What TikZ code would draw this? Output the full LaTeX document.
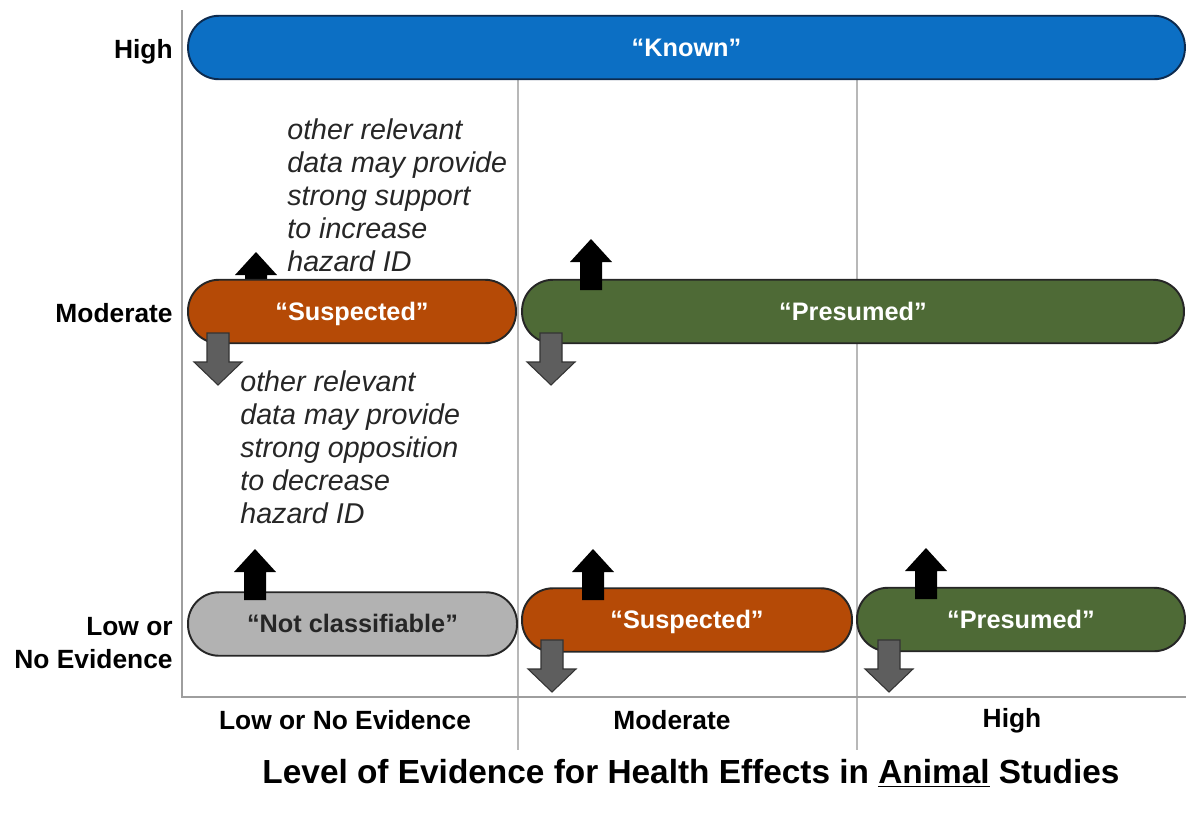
\documentclass[tikz,border=0pt]{standalone}
\usepackage{fontspec}
\setmainfont{Liberation Sans}
\definecolor{knownblue}{HTML}{0C6FC4}
\definecolor{knownedge}{HTML}{0D2B4F}
\definecolor{susporange}{HTML}{B54A06}
\definecolor{presgreen}{HTML}{4E6A36}
\definecolor{notgray}{HTML}{B2B2B2}
\definecolor{downgray}{HTML}{5E5E5E}

\begin{document}
\begin{tikzpicture}[
    x=0.02cm, y=-0.02cm,
    bar/.style={draw=black!85, line width=1.1pt, rounded corners=0.62cm,
        minimum height=1.27cm, inner sep=0pt, text=white,
        text height=1.0em, text depth=0pt,
        font=\fontsize{14.4}{16}\selectfont\bfseries},
    axislabel/.style={font=\fontsize{15}{18.5}\selectfont\bfseries, inner sep=0pt},
    note/.style={anchor=north west, inner sep=0pt, align=left,
        font=\fontsize{16.3}{18.8}\selectfont\itshape, text=black!85},
    axis/.style={draw=black!38, line width=1.3pt},
    grid/.style={draw=black!28, line width=0.7pt},
    uparr/.pic={\fill[black] (0,0) -- (21,23) -- (11,23) -- (11,51)
        -- (-11,51) -- (-11,23) -- (-21,23) -- cycle;},
    downarr/.pic={\filldraw[fill=downgray, draw=black!80, line width=0.6pt]
        (0,0) -- (24,-23) -- (11,-23) -- (11,-52) -- (-11,-52) -- (-11,-23)
        -- (-24,-23) -- cycle;}
]
    \useasboundingbox (0,0) rectangle (1186,816);
    \coordinate (top) at (182,10);
    \coordinate (o) at (182,697);
    \coordinate (right) at (1186,697);
    \coordinate (g1top) at (518,80);
    \coordinate (g1bot) at (518,750);
    \coordinate (g2top) at (857,80);
    \coordinate (g2bot) at (857,750);
    \draw[grid] (g1top) -- (g1bot);
    \draw[grid] (g2top) -- (g2bot);
    \draw[axis] (top) -- (o) -- (right);

    \pic at (256,252) {uparr};
    \node[bar, fill=knownblue, draw=knownedge, minimum width=19.94cm]
        (known) at (686.5,47.5) {``Known''};
    \node[bar, fill=susporange, minimum width=6.56cm]
        (susmod) at (352,311.5) {``Suspected''};
    \node[bar, fill=presgreen, minimum width=13.24cm]
        (presmod) at (853,311.5) {``Presumed''};
    \node[bar, fill=notgray, text=black!85, minimum width=6.58cm]
        (notcl) at (352.5,624) {``Not classifiable''};
    \node[bar, fill=susporange, minimum width=6.6cm]
        (suslow) at (687,620) {``Suspected''};
    \node[bar, fill=presgreen, minimum width=6.56cm]
        (preslow) at (1021,619.5) {``Presumed''};

    \pic at (591,239) {uparr};
    \pic at (255,549) {uparr};
    \pic at (593,549) {uparr};
    \pic at (926,548) {uparr};
    \pic at (218,385) {downarr};
    \pic at (551,385) {downarr};
    \pic at (552,692) {downarr};
    \pic at (889,692) {downarr};

    \node[note] (upnote) at (287,118) {other relevant\\data may provide\\strong support\\to increase\\hazard ID};
    \node[note] (downnote) at (240,370) {other relevant\\data may provide\\strong opposition\\to decrease\\hazard ID};

    \node[axislabel, anchor=east] (yhigh) at (173,52) {High};
    \node[axislabel, anchor=east] (ymod) at (173,313) {Moderate};
    \node[axislabel, anchor=east, align=right] (ylow) at (173,643) {Low or\\No Evidence};
    \node[axislabel] (xlow) at (345,720) {Low or No Evidence};
    \node[axislabel] (xmod) at (672,720) {Moderate};
    \node[axislabel] (xhigh) at (1012,721) {High};
    \node[font=\fontsize{19}{22}\selectfont\bfseries, inner sep=0pt]
        (title) at (691,773) {Level of Evidence for Health Effects in \underline{Animal} Studies};
\end{tikzpicture}
\end{document}
